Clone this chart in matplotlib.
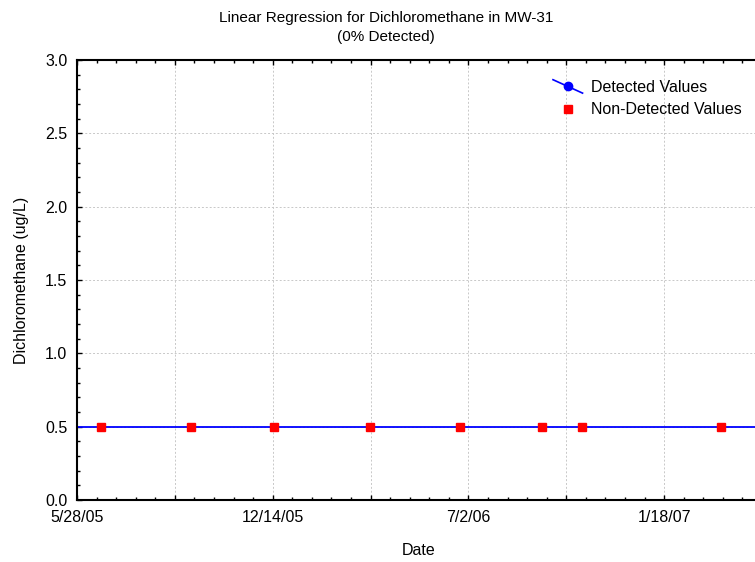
import datetime as dt
import matplotlib
matplotlib.use("Agg")
import matplotlib.pyplot as plt
import matplotlib.dates as mdates
from matplotlib.lines import Line2D
from matplotlib.legend_handler import HandlerLine2D
from matplotlib.ticker import MultipleLocator, FuncFormatter

# sample dates (all non-detects) and values
sample_dates = ["2005-06-22", "2005-09-22", "2005-12-15", "2006-03-23",
                "2006-06-23", "2006-09-15", "2006-10-26", "2007-03-17"]
nd_values = [0.5, 0.5, 0.5, 0.5, 0.5, 0.5, 0.5, 0.5]
regression_value = 0.5

x_start = dt.date(2005, 5, 28)
x_days = 698


class DiagHandler(HandlerLine2D):
    def create_artists(self, legend, orig_handle, xdescent, ydescent,
                       width, height, fontsize, trans):
        x0, x1 = -xdescent, -xdescent + width
        y0, y1 = -ydescent + height * 1.1, -ydescent - height * 0.1
        line = Line2D([x0, x1], [y0, y1], color="blue", lw=1.2)
        mark = Line2D([(x0 + x1) / 2], [(y0 + y1) / 2], marker="o",
                      color="blue", markersize=6, linestyle="none")
        line.set_transform(trans)
        mark.set_transform(trans)
        return [line, mark]


def date_fmt(x, pos):
    d = mdates.num2date(x)
    days = (d.date() - x_start).days
    if days % 200 != 0:
        return ""
    return f"{d.month}/{d.day}/{d:%y}"


def main():
    plt.rcParams["font.family"] = ["Liberation Sans", "DejaVu Sans"]
    plt.rcParams["font.size"] = 11.5

    fig = plt.figure(figsize=(7.55, 5.62), dpi=100)
    ax = fig.add_axes([77 / 755, 1 - 500 / 562, 683 / 755, 440 / 562])

    dates = [dt.datetime.strptime(s, "%Y-%m-%d") for s in sample_dates]

    ax.axhline(regression_value, color="blue", lw=1.3, zorder=2)
    ax.plot(dates, nd_values, linestyle="none", marker="s", color="red",
            markersize=6, zorder=3)

    x0 = mdates.date2num(dt.datetime.combine(x_start, dt.time()))
    ax.set_xlim(x0, x0 + x_days)
    ax.set_ylim(0, 3.0)

    ax.xaxis.set_major_locator(MultipleLocator(100, offset=x0 % 100))
    ax.xaxis.set_minor_locator(MultipleLocator(20, offset=x0 % 20))
    ax.xaxis.set_major_formatter(FuncFormatter(date_fmt))
    ax.yaxis.set_major_locator(MultipleLocator(0.5))
    ax.yaxis.set_minor_locator(MultipleLocator(0.1))
    ax.yaxis.set_major_formatter(FuncFormatter(lambda v, p: f"{v:.1f}"))

    ax.grid(True, which="major", color="#c8c8c8", linestyle=(0, (2, 2)), lw=0.7)
    ax.set_axisbelow(True)

    ax.tick_params(which="both", direction="in", top=True, right=True, width=1.0)
    ax.tick_params(which="major", length=3.5, pad=7)
    ax.tick_params(which="minor", length=2.5)
    for s in ax.spines.values():
        s.set_linewidth(1.5)

    ax.set_xlabel("Date", labelpad=13)
    fig.text(22 / 755, 0.502, "Dichloromethane (ug/L)", rotation=90,
             ha="center", va="center")
    fig.text(386 / 755, 1 - 27.5 / 562,
             "Linear Regression for Dichloromethane in MW-31\n(0% Detected)",
             ha="center", va="center", fontsize=11, linespacing=1.4)

    det = Line2D([], [], color="blue", marker="o")
    nd = Line2D([], [], color="red", marker="s", linestyle="none", markersize=6)
    ax.legend([det, nd], ["Detected Values", "Non-Detected Values"],
              handler_map={det: DiagHandler()},
              loc="upper left", bbox_to_anchor=(553 / 755, 1 - 80 / 562),
              bbox_transform=fig.transFigure, frameon=False, borderpad=0,
              borderaxespad=0, handlelength=1.85, handletextpad=0.5,
              labelspacing=0.45)

    fig.savefig("out.png", dpi=100)


if __name__ == '__main__':
    main()
